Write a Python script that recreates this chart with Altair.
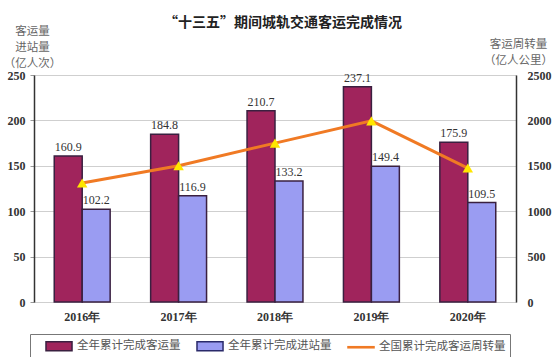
import altair as alt
import pandas as pd

years = ["2016年", "2017年", "2018年", "2019年", "2020年"]
passenger = [160.9, 184.8, 210.7, 237.1, 175.9]
entries = [102.2, 116.9, 133.2, 149.4, 109.5]
turnover = [1310, 1500, 1750, 1995, 1475]
series = ["全年累计完成客运量", "全年累计完成进站量", "全国累计完成客运周转量"]
colors = ["#A0245C", "#9A9CF2", "#F07A24"]

bars_df = pd.DataFrame({
    "year": years * 2,
    "series": [series[0]] * 5 + [series[1]] * 5,
    "value": passenger + entries,
})
line_df = pd.DataFrame({"year": years, "turnover": turnover})
legend_df = pd.DataFrame({"series": series})

CJK = "Noto Sans CJK SC"
SERIF = "Liberation Serif"

x_enc = alt.X(
    "year:N", sort=years,
    scale=alt.Scale(paddingInner=0.42, paddingOuter=0.21),
    axis=alt.Axis(title=None, labelAngle=0, labelFont=SERIF, labelFontSize=12,
                  labelFontWeight="bold", labelColor="#333", labelPadding=9,
                  ticks=False, domain=False),
)
xoff = alt.XOffset("series:N", sort=series[:2], scale=alt.Scale(domain=series[:2], paddingInner=0))

bar_path = "M0.57,-0.64H4.29V0.64H0.57Z"
line_path = "M0.57,-0.08H4.29V0.08H0.57Z"

legend = alt.Legend(
    orient="none", legendX=-4, legendY=259, direction="horizontal", columns=3,
    title=None, strokeColor="#777", padding=4, symbolSize=196,
    symbolStrokeWidth=1.5, symbolOpacity=1,
    labelFont=CJK, labelFontSize=11.5, labelColor="#555", columnPadding=4, labelOffset=27,
)

y_left = alt.Y(
    "value:Q",
    scale=alt.Scale(domain=[0, 250], nice=False),
    axis=alt.Axis(
        title=["客运量", "进站量", "（亿人次）"], titleAngle=0, titleAlign="center",
        titleBaseline="top", titleX=-2, titleY=-50, titleFont=CJK, titleFontSize=11.5,
        titleFontWeight="normal", titleColor="#666", titleLineHeight=16,
        values=[0, 50, 100, 150, 200, 250], labelFont=SERIF, labelFontSize=12,
        labelFontWeight="bold", labelColor="#333", domainColor="#333", domainWidth=1.5,
        tickColor="#999", tickSize=4, labelPadding=5, grid=True, gridColor="#cfcfcf",
    ),
)

color_scale = alt.Scale(domain=series, range=colors)
shape_scale = alt.Scale(domain=series, range=[bar_path, bar_path, line_path])
stroke_scale = alt.Scale(domain=series, range=["#3a2040", "#2a2a6a", "#F07A24"])

bars = alt.Chart(bars_df).mark_bar(stroke="#3a2040", strokeWidth=1.5).encode(
    x=x_enc, xOffset=xoff, y=y_left,
    color=alt.Color("series:N", scale=color_scale, legend=legend),
)
labels = alt.Chart(bars_df).mark_text(dy=-9, font=SERIF, fontSize=12, color="#333").encode(
    x=x_enc, xOffset=xoff, y=alt.Y("value:Q"), text=alt.Text("value:Q", format=".1f"),
)

y_right = alt.Y(
    "turnover:Q",
    scale=alt.Scale(domain=[0, 2500], nice=False),
    axis=alt.Axis(
        orient="right", title=["客运周转量", "（亿人公里）"], titleAngle=0, titleAlign="center",
        titleBaseline="top", titleX=2, titleY=-37, titleFont=CJK, titleFontSize=11.5,
        titleFontWeight="normal", titleColor="#666", titleLineHeight=16, format="d",
        values=[0, 500, 1000, 1500, 2000, 2500], labelFont=SERIF, labelFontSize=12,
        labelFontWeight="bold", labelColor="#333", domainColor="#333", domainWidth=1.5,
        tickSize=0, labelPadding=11, grid=False,
    ),
)

line = alt.Chart(line_df).mark_line(color="#F07A24", strokeWidth=3).encode(x=x_enc, y=y_right)
pts = alt.Chart(line_df).mark_point(shape="triangle-up", filled=True, color="#FFE600",
                                     size=110, opacity=1).encode(x=alt.X("year:N", sort=years), y=alt.Y("turnover:Q"))

legend_layer = alt.Chart(legend_df).transform_filter("false").mark_point(filled=True, opacity=1).encode(
    color=alt.Color("series:N", scale=color_scale, legend=legend),
    shape=alt.Shape("series:N", scale=shape_scale, legend=legend),
    stroke=alt.Stroke("series:N", scale=stroke_scale, legend=legend),
)

chart = alt.layer(
    alt.layer(bars, labels),
    alt.layer(line, pts),
    legend_layer,
).resolve_scale(y="independent").properties(
    width=482, height=227,
    padding={"left": 34, "top": 75, "right": 44, "bottom": 55},
    autosize=alt.AutoSizeParams(type="none"),
    title=alt.TitleParams("“十三五”期间城轨交通客运完成情况", font=CJK, fontSize=14,
                          fontWeight="bold", color="#222", anchor="middle", offset=-5, dx=8),
).configure_view(stroke="#333", strokeWidth=1.5).configure(background="white")

chart.save("out.html", embed_options={"renderer": "svg", "actions": False})
